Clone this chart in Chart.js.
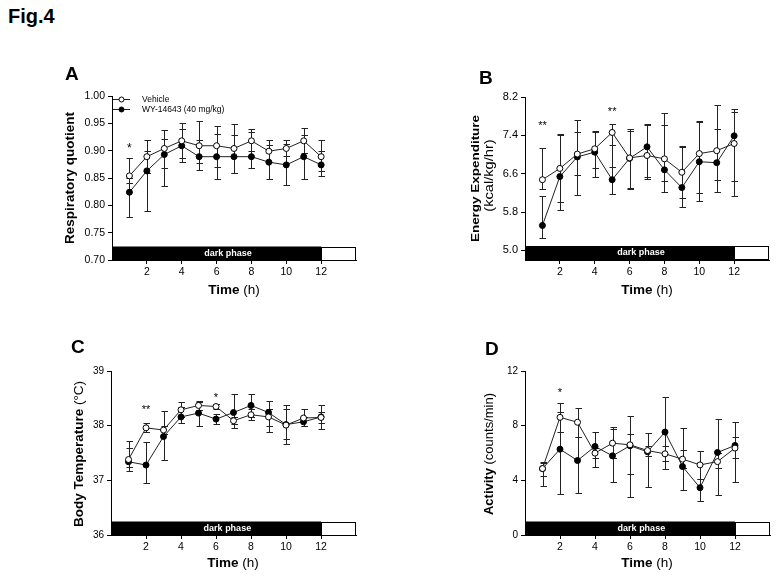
<!DOCTYPE html>
<html><head><meta charset="utf-8">
<script src="https://cdn.jsdelivr.net/npm/chart.js@4/dist/chart.umd.min.js"></script>
<style>
html,body{margin:0;padding:0;background:#fff}
body{width:779px;height:581px;position:relative;overflow:hidden;font-family:"Liberation Sans",Arial,Helvetica,sans-serif}
canvas{position:absolute}
.lbl{position:absolute;font-weight:bold;color:#000;line-height:1;white-space:nowrap}
</style></head><body>
<canvas id="cA" width="380" height="230" style="left:0px;top:80px"></canvas>
<canvas id="cB" width="389" height="230" style="left:390px;top:80px"></canvas>
<canvas id="cC" width="380" height="231" style="left:0px;top:350px"></canvas>
<canvas id="cD" width="389" height="231" style="left:390px;top:350px"></canvas>
<div class="lbl" style="left:8px;top:6px;font-size:20px">Fig.4</div>
<div class="lbl" style="left:65px;top:64px;font-size:19px">A</div>
<div class="lbl" style="left:479px;top:68px;font-size:19px">B</div>
<div class="lbl" style="left:71px;top:337px;font-size:19px">C</div>
<div class="lbl" style="left:485px;top:339px;font-size:19px">D</div>
<script>
// ---------- shared ----------
const hours = [1,2,3,4,5,6,7,8,9,10,11,12];
const xTickValues = [2,4,6,8,10,12];
const darkPhase = [0,12];
const lightPhase = [12,14];
const phaseLabel = 'dark phase';
const phaseLabelAt = 6.65;
const seriesNames = ['Vehicle','WY-14643 (40 mg/kg)'];

// ---------- A: Respiratory quotient ----------
const rqTicks = [0.70,0.75,0.80,0.85,0.90,0.95,1.00];
const rqVehicle   = [0.854,0.889,0.904,0.918,0.909,0.909,0.904,0.918,0.899,0.904,0.918,0.889];
const rqVehicleHi = [0.887,0.920,0.938,0.951,0.954,0.945,0.948,0.939,0.920,0.920,0.941,0.920];
const rqVehicleLo = [0.840,0.860,0.869,0.886,0.864,0.870,0.860,0.900,0.880,0.890,0.895,0.862];
const rqWY        = [0.824,0.863,0.893,0.909,0.889,0.889,0.889,0.889,0.879,0.874,0.889,0.874];
const rqWYHi      = [0.850,0.900,0.921,0.940,0.920,0.930,0.929,0.935,0.910,0.912,0.929,0.900];
const rqWYLo      = [0.779,0.790,0.835,0.879,0.877,0.848,0.860,0.869,0.849,0.837,0.848,0.854];
const rqStarX = [1], rqStarY = [0.910], rqStarText = ['*'];

// ---------- B: Energy expenditure ----------
const eeTicks = [5.0,5.8,6.6,7.4,8.2];
const eeVehicle   = [6.475,6.71,7.01,7.12,7.46,6.93,6.98,6.91,6.63,7.02,7.08,7.23];
const eeVehicleHi = [7.14,7.43,7.48,7.46,7.64,7.53,7.62,7.62,7.18,7.70,7.53,7.96];
const eeVehicleLo = [6.29,6.00,6.58,6.71,6.74,6.30,6.49,6.21,6.09,6.20,6.47,6.44];
const eeWY        = [5.52,6.54,6.95,7.05,6.475,6.92,7.16,6.68,6.31,6.85,6.83,7.39];
const eeWYHi      = [6.13,7.41,7.72,7.50,7.19,7.50,7.64,7.87,7.16,7.68,8.03,7.89];
const eeWYLo      = [5.25,5.84,6.15,6.53,6.17,6.29,6.53,6.45,5.90,6.04,6.22,6.13];
const eeStarX = [1,5], eeStarY = [7.66,7.955], eeStarText = ['**','**'];

// ---------- C: Body temperature ----------
const btTicks = [36,37,38,39];
const btVehicle   = [37.38,37.96,37.92,38.29,38.37,38.35,38.09,38.20,38.16,38.01,38.14,38.15];
const btVehicleHi = [37.72,38.05,38.00,38.43,38.45,38.40,38.15,38.30,38.30,38.37,38.30,38.37];
const btVehicleLo = [37.25,37.88,37.84,38.15,38.29,38.30,38.03,38.10,37.89,37.66,37.99,37.93];
const btWY        = [37.34,37.28,37.80,38.16,38.23,38.12,38.24,38.37,38.24,38.02,38.07,38.16];
const btWYHi      = [37.60,37.71,38.27,38.35,38.43,38.21,38.58,38.58,38.45,38.30,38.15,38.25];
const btWYLo      = [37.17,36.95,37.38,38.04,37.99,38.03,37.95,38.16,38.00,37.75,37.99,38.05];
const btStarX = [2,6], btStarY = [38.35,38.57], btStarText = ['**','*'];

// ---------- D: Activity ----------
const acTicks = [0,4,8,12];
const acVehicle   = [4.86,8.61,8.25,5.99,6.72,6.60,6.18,5.94,5.55,5.13,5.37,6.36];
const acVehicleHi = [5.37,9.69,9.28,6.40,7.88,8.71,6.50,6.50,6.20,6.11,6.00,7.17];
const acVehicleLo = [4.34,7.55,7.17,5.64,5.60,4.50,5.80,5.40,4.90,4.10,4.90,5.62];
const acWY        = [4.86,6.28,5.45,6.48,5.79,6.53,6.09,7.53,5.01,3.46,6.04,6.55];
const acWYHi      = [5.30,9.03,7.20,7.51,7.78,7.40,7.48,10.11,7.83,4.10,8.47,8.27];
const acWYLo      = [3.56,2.97,3.04,5.00,3.90,2.77,3.53,4.83,3.31,2.50,2.92,3.90];
const acStarX = [2], acStarY = [10.58], acStarText = ['*'];

const FONT = '"Liberation Sans", Arial, Helvetica, sans-serif';

function drawRich(ctx, lines, cx, cy, rotate, gap, stretch, shifts) {
  ctx.save();
  ctx.translate(cx, cy);
  if (rotate) ctx.rotate(-Math.PI / 2);
  if (stretch) ctx.scale(stretch, 1);
  ctx.fillStyle = '#000';
  ctx.textBaseline = 'middle';
  ctx.textAlign = 'left';
  const n = lines.length;
  lines.forEach((segs, li) => {
    let w = 0;
    segs.forEach(s => { ctx.font = s[1] + ' ' + s[2] + 'px ' + FONT; w += ctx.measureText(s[0]).width; });
    let x = -w / 2 + (shifts ? shifts[li] / (stretch || 1) : 0);
    const y = (li - (n - 1) / 2) * gap;
    segs.forEach(s => { ctx.font = s[1] + ' ' + s[2] + 'px ' + FONT; ctx.fillText(s[0], x, y); x += ctx.measureText(s[0]).width; });
  });
  ctx.restore();
}

function makePanel(id, P) {
  const mk = (label, vals, hi, lo, fill) => ({
    label: label,
    data: hours.map((h, i) => ({ x: h, y: vals[i] })),
    errHi: hi, errLo: lo,
    showLine: true, fill: false, tension: 0,
    borderColor: '#222', borderWidth: 1,
    pointRadius: 3, pointHoverRadius: 3, pointBorderWidth: 1,
    pointBorderColor: '#000', pointBackgroundColor: fill
  });

  const errorBars = {
    id: 'errbars',
    beforeDatasetsDraw(chart) {
      const ctx = chart.ctx, xs = chart.scales.x, ys = chart.scales.y;
      ctx.save();
      ctx.strokeStyle = '#222'; ctx.lineWidth = 1;
      chart.data.datasets.forEach(ds => {
        ds.data.forEach((pt, i) => {
          const x = Math.round(xs.getPixelForValue(pt.x)) + 0.5;
          const yh = Math.round(ys.getPixelForValue(ds.errHi[i])) + 0.5;
          const yl = Math.round(ys.getPixelForValue(ds.errLo[i])) + 0.5;
          ctx.beginPath();
          ctx.moveTo(x, yh); ctx.lineTo(x, yl);
          ctx.moveTo(x - 3, yh); ctx.lineTo(x + 3.5, yh);
          ctx.moveTo(x - 3, yl); ctx.lineTo(x + 3.5, yl);
          ctx.stroke();
        });
      });
      ctx.restore();
    }
  };

  const extras = {
    id: 'extras',
    afterDatasetsDraw(chart) {
      const ctx = chart.ctx, a = chart.chartArea, xs = chart.scales.x, ys = chart.scales.y;
      // phase bar
      const h = P.barH, top = a.bottom - h;
      const x0 = xs.getPixelForValue(darkPhase[0]);
      const x1 = xs.getPixelForValue(darkPhase[1]);
      const x2 = xs.getPixelForValue(lightPhase[1]);
      ctx.save();
      ctx.fillStyle = '#000';
      ctx.fillRect(x0, top, x1 - x0, h);
      ctx.fillStyle = '#fff';
      ctx.fillRect(x1, top, x2 - x1, h);
      ctx.strokeStyle = '#000'; ctx.lineWidth = 1;
      ctx.strokeRect(Math.round(x1) + 0.5, Math.round(top) + 0.5, Math.round(x2 - x1) - 1, Math.round(h) - 1);
      ctx.fillStyle = '#fff';
      ctx.font = 'bold 9px ' + FONT;
      ctx.textAlign = 'center'; ctx.textBaseline = 'middle';
      ctx.fillText(phaseLabel, xs.getPixelForValue(phaseLabelAt), top + h / 2);
      // significance stars
      ctx.fillStyle = '#000';
      ctx.font = P.starSize + 'px ' + FONT;
      ctx.textBaseline = 'alphabetic';
      P.starX.forEach((sx, i) => {
        ctx.fillText(P.starText[i], xs.getPixelForValue(sx), ys.getPixelForValue(P.starY[i]) + P.starSize * 0.55);
      });
      // legend (panel A only)
      if (P.legend) {
        const L = P.legend;
        chart.data.datasets.forEach((ds, i) => {
          const y = Math.round(a.top + L.y0 + i * L.dy) + 0.5;
          ctx.strokeStyle = '#222'; ctx.lineWidth = 1;
          ctx.beginPath(); ctx.moveTo(a.left + L.x0, y); ctx.lineTo(a.left + L.x1, y); ctx.stroke();
          ctx.beginPath(); ctx.arc(a.left + (L.x0 + L.x1) / 2, y, 2.5, 0, Math.PI * 2);
          ctx.fillStyle = ds.pointBackgroundColor; ctx.fill();
          ctx.strokeStyle = '#000'; ctx.stroke();
          ctx.fillStyle = '#000';
          ctx.font = L.size + 'px ' + FONT;
          ctx.textAlign = 'left'; ctx.textBaseline = 'middle';
          ctx.fillText(ds.label, a.left + L.tx, y);
        });
      }
      // axis titles
      drawRich(ctx, P.yTitle, P.yTitlePos[0], P.yTitlePos[1], true, P.yTitleGap || 0, P.yTitleStretch || 1, P.yTitleShift);
      drawRich(ctx, P.xTitle, P.xTitlePos[0], P.xTitlePos[1], false, 0, 1, null);
      ctx.restore();
    }
  };

  new Chart(document.getElementById(id), {
    type: 'scatter',
    data: { datasets: [mk(seriesNames[0], P.v, P.vHi, P.vLo, '#fff'), mk(seriesNames[1], P.w, P.wHi, P.wLo, '#000')] },
    plugins: [errorBars, extras],
    options: {
      animation: false, responsive: false, devicePixelRatio: 1,
      events: [],
      layout: { padding: { left: 0, right: P.padRight, top: P.padTop, bottom: 0 } },
      plugins: { legend: { display: false }, tooltip: { enabled: false } },
      scales: {
        x: {
          type: 'linear', min: 0, max: 14,
          afterBuildTicks: s => { s.ticks = xTickValues.map(v => ({ value: v })); },
          afterFit: s => { s.height = P.xAxisH; },
          grid: { drawOnChartArea: false, drawTicks: true, tickLength: 4, color: '#000', lineWidth: 1 },
          border: { display: true, color: '#000', width: 1 },
          ticks: { color: '#000', font: { family: FONT, size: 10.5 }, padding: 2, maxRotation: 0, autoSkip: false }
        },
        y: {
          min: P.yMin, max: P.yMax,
          afterBuildTicks: s => { s.ticks = P.yTicks.map(v => ({ value: v })); },
          afterFit: s => { s.width = P.yAxisW; },
          grid: { drawOnChartArea: false, drawTicks: true, tickLength: 4, color: '#000', lineWidth: 1 },
          border: { display: true, color: '#000', width: 1 },
          ticks: { color: '#000', font: { family: FONT, size: P.yTickSize }, padding: 3, autoSkip: false,
                   callback: v => v.toFixed(P.dec) }
        }
      }
    }
  });
}

makePanel('cA', {
  v: rqVehicle, vHi: rqVehicleHi, vLo: rqVehicleLo, w: rqWY, wHi: rqWYHi, wLo: rqWYLo,
  yMin: 0.70, yMax: 1.00, yTicks: rqTicks, dec: 2, yTickSize: 10.5,
  starX: rqStarX, starY: rqStarY, starText: rqStarText, starSize: 12,
  padRight: 24, padTop: 16, yAxisW: 112, xAxisH: 50, barH: 13.5,
  legend: { x0: 1, x1: 18, tx: 30, y0: 3, dy: 9.5, size: 8.5 },
  yTitle: [[['Respiratory quotient', 'bold', 13.5]]], yTitlePos: [70, 98],
  xTitle: [[['Time', 'bold', 13.5], [' (h)', 'normal', 13.5]]], xTitlePos: [234, 210]
});

makePanel('cB', {
  v: eeVehicle, vHi: eeVehicleHi, vLo: eeVehicleLo, w: eeWY, wHi: eeWYHi, wLo: eeWYLo,
  yMin: 4.8, yMax: 8.2, yTicks: eeTicks, dec: 1, yTickSize: 11,
  starX: eeStarX, starY: eeStarY, starText: eeStarText, starSize: 11,
  padRight: 10, padTop: 17, yAxisW: 135, xAxisH: 50, barH: 14,
  yTitle: [[['Energy Expenditure', 'bold', 11.5]], [['(kcal/kg/hr)', 'normal', 12.5]]], yTitleGap: 13.5,
  yTitleStretch: 1.17, yTitleShift: [0, 3],
  yTitlePos: [92.5, 98.5],
  xTitle: [[['Time', 'bold', 13.5], [' (h)', 'normal', 13.5]]], xTitlePos: [257, 210]
});

makePanel('cC', {
  v: btVehicle, vHi: btVehicleHi, vLo: btVehicleLo, w: btWY, wHi: btWYHi, wLo: btWYLo,
  yMin: 36, yMax: 39, yTicks: btTicks, dec: 0, yTickSize: 10,
  starX: btStarX, starY: btStarY, starText: btStarText, starSize: 11,
  padRight: 24, padTop: 21, yAxisW: 111, xAxisH: 46, barH: 13.5,
  yTitle: [[['Body Temperature', 'bold', 13.5], [' (\u00B0C)', 'normal', 13.5]]], yTitlePos: [79, 104],
  xTitle: [[['Time', 'bold', 13.5], [' (h)', 'normal', 13.5]]], xTitlePos: [233, 213]
});

makePanel('cD', {
  v: acVehicle, vHi: acVehicleHi, vLo: acVehicleLo, w: acWY, wHi: acWYHi, wLo: acWYLo,
  yMin: 0, yMax: 12, yTicks: acTicks, dec: 0, yTickSize: 10,
  starX: acStarX, starY: acStarY, starText: acStarText, starSize: 11,
  padRight: 9, padTop: 21, yAxisW: 135, xAxisH: 46, barH: 13.5,
  yTitle: [[['Activity', 'bold', 13], [' (counts/min)', 'normal', 13]]], yTitlePos: [99, 104],
  xTitle: [[['Time', 'bold', 13.5], [' (h)', 'normal', 13.5]]], xTitlePos: [257, 213]
});
</script>
</body></html>
